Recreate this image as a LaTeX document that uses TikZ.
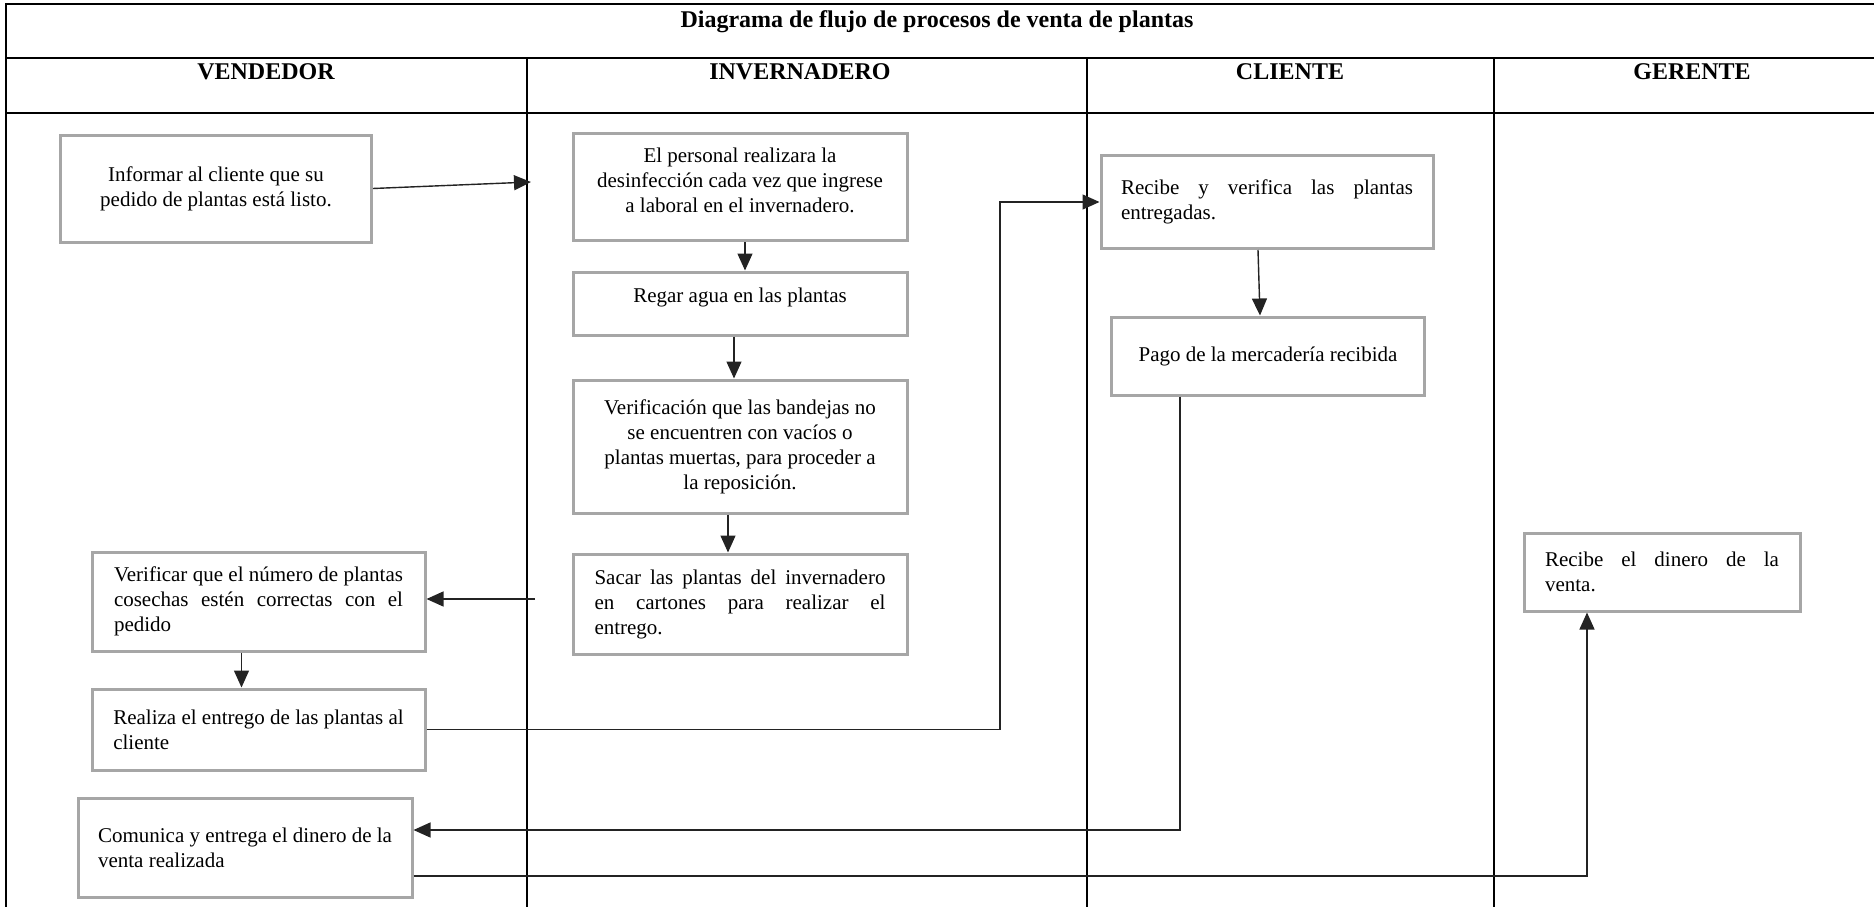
\documentclass[tikz,border=0pt]{standalone}
\usepackage{fontspec}
\setmainfont{Liberation Serif}
\usetikzlibrary{arrows.meta,positioning,calc}
\definecolor{boxgray}{RGB}{166,166,166}
\definecolor{linkgray}{RGB}{35,35,35}

\begin{document}
\begin{tikzpicture}[
    x=1pt,y=-1pt,
    procbox/.style={draw=boxgray,line width=3pt,inner sep=0pt,font=\fontsize{21}{25}\selectfont},
    flow/.style={-{Triangle[length=17pt,width=15pt]},line width=1.4pt,draw=linkgray},
    lane/.style={line width=2.6pt},
    headtext/.style={font=\fontsize{24}{28}\selectfont\bfseries,inner sep=0pt},
]
\useasboundingbox (0,0) rectangle (1874,907);

% Table frame
\draw[lane] (1874,4) -- (6,4) -- (6,907);
\draw[lane] (6,58) -- (1874,58);
\draw[lane] (6,113) -- (1874,113);
\draw[lane] (527,58) -- (527,907);
\draw[lane] (1087,58) -- (1087,907);
\draw[lane] (1494,58) -- (1494,907);

% Title
\node[headtext] (title) at (937,22) {Diagrama de flujo de procesos de venta de plantas};

% Lanes
\node[headtext] (vendedor) at (266,72) {VENDEDOR};
\node[headtext] (invernadero) at (800,72) {INVERNADERO};
\node[headtext] (cliente) at (1290,72) {CLIENTE};
\node[headtext] (gerente) at (1692,72) {GERENTE};

% Vendedor
\node[procbox,align=center,minimum width=311pt,minimum height=107pt] (inf) at (216,188.5) {Informar al cliente que su\\pedido de plantas está listo.};
\node[procbox,align=left,minimum width=333pt,minimum height=99pt] (num) at (258.5,601.5) {\makebox[289pt][s]{Verificar que el número de plantas}\\\makebox[289pt][s]{cosechas estén correctas con el}\\pedido};
\node[procbox,align=left,minimum width=333pt,minimum height=81pt] (rea) at (258.5,729.5) {Realiza el entrego de las plantas al\\cliente};
\node[procbox,align=left,minimum width=334pt,minimum height=99pt] (com) at (245,847.5) {Comunica y entrega el dinero de la\\venta realizada};

% Invernadero
\node[procbox,align=center,minimum width=334pt,minimum height=107pt,text depth=14pt] (des) at (740,187) {El personal realizara la\\desinfección cada vez que ingrese\\a laboral en el invernadero.};
\node[procbox,align=center,minimum width=334pt,minimum height=63pt,text depth=16pt] (reg) at (740,303.5) {Regar agua en las plantas};
\node[procbox,align=center,minimum width=334pt,minimum height=133pt] (ver) at (740,446.5) {Verificación que las bandejas no\\se encuentren con vacíos o\\plantas muertas, para proceder a\\la reposición.};
\node[procbox,align=left,minimum width=334pt,minimum height=100pt] (sac) at (740,604) {\makebox[291pt][s]{Sacar las plantas del invernadero}\\\makebox[291pt][s]{en cartones para realizar el}\\entrego.};

% Cliente
\node[procbox,align=left,minimum width=332pt,minimum height=93pt] (rec) at (1267,202) {\makebox[292pt][s]{Recibe y verifica las plantas}\\entregadas.};
\node[procbox,align=center,minimum width=313pt,minimum height=78pt] (pag) at (1268,356) {Pago de la mercadería recibida};

% Gerente
\node[procbox,align=left,minimum width=276pt,minimum height=78pt] (din) at (1662,572) {\makebox[234pt][s]{Recibe el dinero de la}\\venta.};

% Connections
\coordinate (invin) at (531,182);
\coordinate (invout) at (535,599);
\coordinate (bendrec) at (1000,400);
\coordinate (bendpag) at (1180,830);
\coordinate (benddin) at (1587,876);

\draw[flow] (inf.east) -- (invin);
\draw[flow] ([xshift=5pt]des.south) -- ([xshift=5pt]reg.north);
\draw[flow] ([xshift=-6pt]reg.south) -- ([xshift=-6pt]ver.north);
\draw[flow] ([xshift=-12pt]ver.south) -- ([xshift=-12pt]sac.north);
\draw[flow] (invout) -- (invout -| num.east);
\draw[flow] ([xshift=-17pt]num.south) -- ([xshift=-17pt]rea.north);
\draw[flow] (rea.east) -| (bendrec) |- (rec.west);
\draw[flow] ([xshift=-9pt]rec.south) -- ([xshift=-8pt]pag.north);
\draw[flow] (pag.south -| bendpag) -- (bendpag) -- (bendpag -| com.east);
\draw[flow] (benddin -| com.east) -- (benddin) -- (benddin |- din.south);

\end{tikzpicture}
\end{document}
